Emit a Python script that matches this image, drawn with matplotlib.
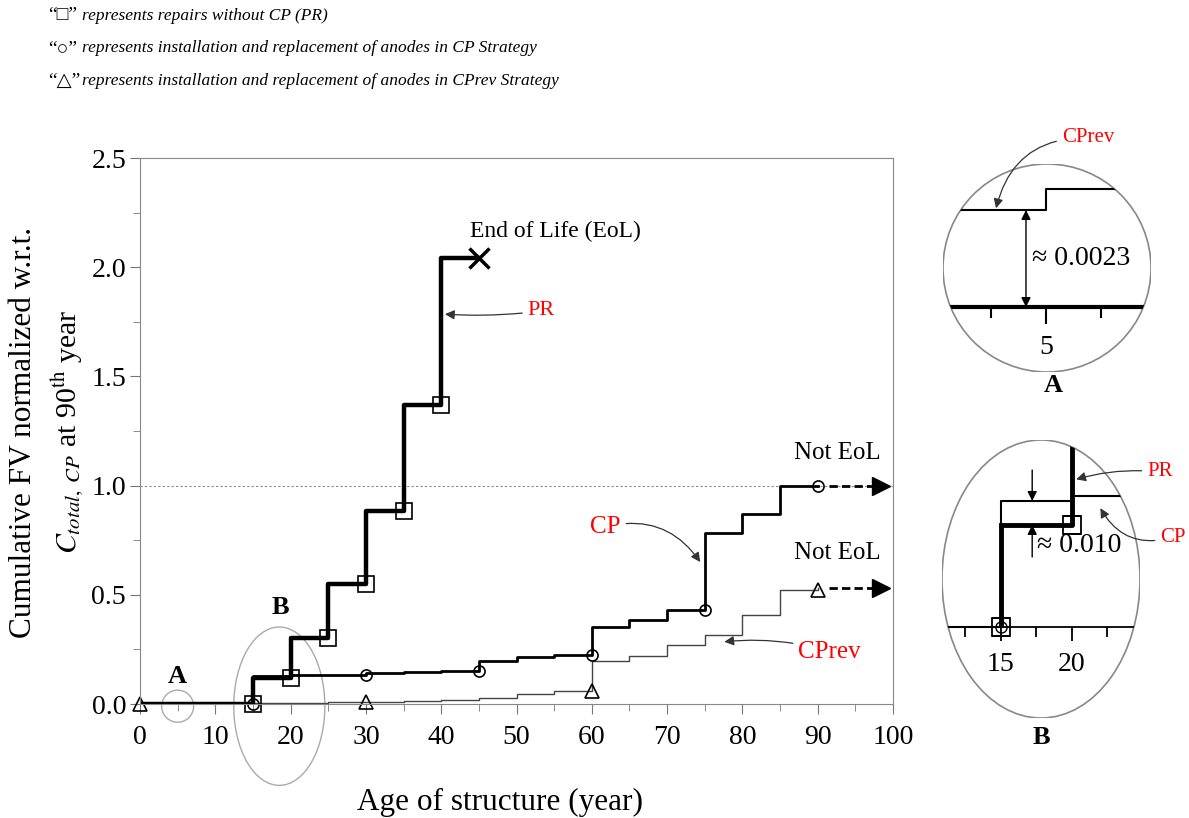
import numpy as np
import matplotlib.pyplot as plt
from matplotlib.patches import Ellipse
from matplotlib.ticker import MultipleLocator, FixedLocator

plt.rcParams['font.family'] = ['Liberation Serif', 'DejaVu Sans']
plt.rcParams['mathtext.fontset'] = 'stix'

# cumulative FV normalized by C_total,CP at year 90, sampled every 5 years
years = np.arange(0, 95, 5)
pr_years = years[:10]          # PR reaches end of life at 45
pr = [0, 0, 0, 0.12, 0.30, 0.55, 0.885, 1.37, 2.04, 2.04]
cp = [0, 0, 0, 0.13, 0.132, 0.134, 0.14, 0.145, 0.152, 0.198,
      0.215, 0.225, 0.353, 0.385, 0.43, 0.785, 0.87, 1.0, 1.0]
cprev = [0.0023, 0.0028, 0.0034, 0.004, 0.005, 0.007, 0.010, 0.014, 0.020, 0.028,
         0.045, 0.058, 0.198, 0.22, 0.27, 0.316, 0.408, 0.523, 0.53]

pr_repairs = [15, 20, 25, 30, 35, 40]
cp_anodes = [15, 30, 45, 60, 75, 90]
cprev_anodes = [0, 30, 60, 90]
eol_year = 45

legend_lines = [
    ('\u201c\u25a1\u201d', 'represents repairs without CP (PR)'),
    ('\u201c\u25cb\u201d', 'represents installation and replacement of anodes in CP Strategy'),
    ('\u201c\u25b3\u201d', 'represents installation and replacement of anodes in CPrev Strategy'),
]


def level_before(xs, ys, t):
    i = list(xs).index(t)
    return ys[i - 1] if i > 0 else 0.0


W, H = 1189, 818
fig = plt.figure(figsize=(W / 100, H / 100), dpi=100)


def fpx(x, y):
    # pixel position measured from the top-left corner -> figure fraction
    return x / W, 1 - y / H


ax = fig.add_axes([140 / W, 1 - 704 / H, 753 / W, 546 / H])
ax.axhline(1.0, color='#888888', ls=(0, (2, 2)), lw=0.8, zorder=1)
ax.step(years, cprev, where='post', color='#444444', lw=1.0)
ax.step(years, cp, where='post', color='k', lw=2.0)
ax.step(pr_years, pr, where='post', color='k', lw=3.2)

ax.plot(pr_repairs, [level_before(pr_years, pr, t) for t in pr_repairs], 's',
        mfc='none', mec='k', ms=11, mew=1.2, clip_on=False)
ax.plot(cp_anodes, [level_before(years, cp, t) for t in cp_anodes], 'o',
        mfc='none', mec='k', ms=8, mew=1.2, clip_on=False)
ax.plot(cprev_anodes, [level_before(years, cprev, t) for t in cprev_anodes], '^',
        mfc='none', mec='k', ms=10, mew=1.2, clip_on=False)
ax.plot(eol_year, pr[-1], 'x', color='k', ms=15, mew=2.5)

# "not end of life" continuation arrows
for lev in (cp[-1], cprev[-1]):
    ax.plot([91.5, 97.5], [lev, lev], color='k', lw=2, ls=(0, (3, 1.5)))
    ax.plot(98.4, lev, '>', color='k', ms=13, clip_on=False)

ax.add_patch(Ellipse((5, -0.01), 4.25, 0.147, fill=False, ec='#aaaaaa', lw=1, clip_on=False))
ax.add_patch(Ellipse((18.5, -0.01), 12.1, 0.725, fill=False, ec='#aaaaaa', lw=1, clip_on=False))
ax.text(5, 0.125, 'A', fontweight='bold', ha='center', va='center', fontsize=19)
ax.text(18.7, 0.44, 'B', fontweight='bold', ha='center', va='center', fontsize=19)

ax.text(43.8, 2.165, 'End of Life (EoL)', ha='left', va='center', fontsize=17)
ax.text(92.6, 1.15, 'Not EoL', ha='center', va='center', fontsize=18)
ax.text(92.6, 0.69, 'Not EoL', ha='center', va='center', fontsize=18)

arrow_kw = dict(arrowstyle='-|>', color='#333333', lw=0.9, mutation_scale=14, shrinkB=0)
ax.annotate('PR', xy=(40.5, 1.785), xytext=(53.3, 1.80), color='red', fontsize=16,
            ha='center', va='center', arrowprops=dict(arrow_kw, connectionstyle='arc3,rad=-0.05'))
ax.annotate('CP', xy=(74.4, 0.65), xytext=(61.8, 0.81), color='red', fontsize=18,
            ha='center', va='center', arrowprops=dict(arrow_kw, connectionstyle='arc3,rad=-0.35'))
ax.annotate('CPrev', xy=(77.6, 0.285), xytext=(91.6, 0.24), color='red', fontsize=18,
            ha='center', va='center', arrowprops=dict(arrow_kw, connectionstyle='arc3,rad=0.1'))

ax.set_xlim(0, 100)
ax.set_ylim(0, 2.5)
ax.xaxis.set_major_locator(MultipleLocator(10))
ax.xaxis.set_minor_locator(MultipleLocator(5))
ax.yaxis.set_major_locator(MultipleLocator(0.5))
ax.yaxis.set_minor_locator(MultipleLocator(0.25))
ax.yaxis.set_major_formatter('{x:.1f}')
ax.tick_params(which='both', direction='out', color='#777777', labelsize=20)
ax.tick_params(which='major', length=7)
ax.tick_params(which='minor', length=5)
ax.tick_params(axis='x', pad=8)
ax.tick_params(axis='y', pad=3)
for s in ax.spines.values():
    s.set_color('#888888')

fig.text(*fpx(24, 432), 'Cumulative FV normalized w.r.t.', rotation=90,
         ha='center', va='center', fontsize=22.5)
fig.text(*fpx(67, 432), r'$C_{total,\ CP}$ at 90$^{\rm th}$ year', rotation=90,
         ha='center', va='center', fontsize=21.5)
fig.text(*fpx(500, 802), 'Age of structure (year)', ha='center', va='center', fontsize=22.5)

for i, (sym, desc) in enumerate(legend_lines):
    y = 16 + 32.5 * i
    fig.text(*fpx(48, y), sym, ha='left', va='center', fontsize=14)
    fig.text(*fpx(82, y), desc, ha='left', va='center', fontsize=12.5, style='italic')

# --- zoom A: first CPrev step around year 5 ---
ax_a = fig.add_axes([943 / W, 1 - 372 / H, 208 / W, 208 / H])
ax_a.set_xlim(0.32, 9.77)
ax_a.set_ylim(-0.00154, 0.00339)
ax_a.patch.set_visible(False)
ring_a = Ellipse((0.5, 0.5), 1, 1, transform=ax_a.transAxes, fill=False, ec='#888888', lw=1.2)
ax_a.add_patch(ring_a)
lines_a = ax_a.step(years, cprev, where='post', color='k', lw=1.5)
lines_a += ax_a.step(years, cp, where='post', color='k', lw=3)
for ln in lines_a:
    ln.set_clip_path(ring_a)
for s in ('top', 'right', 'left'):
    ax_a.spines[s].set_visible(False)
ax_a.spines['bottom'].set_position(('data', 0))
ax_a.spines['bottom'].set_color('none')
ax_a.set_yticks([])
ax_a.set_xticks([5])
ax_a.xaxis.set_minor_locator(FixedLocator([2.5, 7.5]))
ax_a.tick_params(axis='x', which='major', direction='out', length=12, width=1.5, labelsize=20, pad=8)
ax_a.tick_params(axis='x', which='minor', direction='out', length=8, width=1.5)
ax_a.annotate('', xy=(4.09, 0), xytext=(4.09, cprev[0]),
              arrowprops=dict(arrowstyle='<|-|>', color='k', lw=1, shrinkA=0, shrinkB=0, mutation_scale=14))
ax_a.text(4.35, cprev[0] / 2, '\u2248 0.0023', ha='left', va='center', fontsize=20)
ax_a.annotate('CPrev', xy=(2.73, cprev[0] + 0.00004), xytext=fpx(1088, 138), textcoords='figure fraction',
              color='red', fontsize=15, ha='center', va='center', annotation_clip=False,
              arrowprops=dict(arrow_kw, connectionstyle='arc3,rad=0.4'))
fig.text(*fpx(1053, 386), 'A', fontweight='bold', ha='center', va='center', fontsize=19)

# --- zoom B: PR vs CP around years 15-20 (broken vertical scale) ---
brk, squeeze = 0.11, 0.296


def fwd(y):
    y = np.asarray(y, dtype=float)
    return np.where(y < brk, y * squeeze, brk * squeeze + (y - brk))


def inv(v):
    v = np.asarray(v, dtype=float)
    return np.where(v < brk * squeeze, v / squeeze, v - brk * squeeze + brk)


ax_b = fig.add_axes([942 / W, 1 - 718 / H, 198 / W, 278 / H])
ax_b.set_yscale('function', functions=(fwd, inv))
ax_b.set_xlim(10.85, 24.79)
ax_b.set_ylim(-0.128, 0.1554)
ax_b.patch.set_visible(False)
ring_b = Ellipse((0.5, 0.5), 1, 1, transform=ax_b.transAxes, fill=False, ec='#888888', lw=1.2)
ax_b.add_patch(ring_b)
lines_b = ax_b.step(years, cp, where='post', color='k', lw=1.5)
lines_b += ax_b.step(pr_years[3:], pr[3:], where='post', color='k', lw=3.5)
lines_b.append(ax_b.vlines(pr_years[3], 0, pr[3], color='k', lw=3.5))
lines_b += ax_b.plot([15, 20], [level_before(pr_years, pr, t) for t in (15, 20)], 's',
                     mfc='none', mec='k', ms=13, mew=1.3)
lines_b += ax_b.plot(15, level_before(years, cp, 15), 'o', mfc='none', mec='k', ms=8, mew=1, ls='none')
for ln in lines_b:
    ln.set_clip_path(ring_b)
for s in ('top', 'right', 'left'):
    ax_b.spines[s].set_visible(False)
ax_b.spines['bottom'].set_position(('data', 0))
ax_b.spines['bottom'].set_color('k')
ax_b.spines['bottom'].set_linewidth(1.3)
ax_b.spines['bottom'].set_clip_path(ring_b)
ax_b.set_yticks([])
ax_b.yaxis.set_minor_locator(FixedLocator([]))
ax_b.set_xticks([15, 20])
ax_b.xaxis.set_minor_locator(FixedLocator([12.5, 17.5, 22.5]))
ax_b.tick_params(axis='x', which='major', direction='out', length=10, width=1.3, labelsize=20, pad=8)
ax_b.tick_params(axis='x', which='minor', direction='out', length=7, width=1.3)
ax_b.annotate('', xy=(17.2, cp[3]), xytext=(17.2, 0.1429),
              arrowprops=dict(arrowstyle='-|>', color='k', lw=1, shrinkA=0, shrinkB=0, mutation_scale=14))
ax_b.annotate('', xy=(17.2, pr[3]), xytext=(17.2, 0.0987),
              arrowprops=dict(arrowstyle='-|>', color='k', lw=1, shrinkA=0, shrinkB=0, mutation_scale=14))
ax_b.text(0.48, 0.622, '\u2248 0.010', transform=ax_b.transAxes, ha='left', va='center', fontsize=20)
ax_b.annotate('PR', xy=(20.3, 0.139), xycoords=ax_b.transData, xytext=fpx(1160, 472),
              textcoords='figure fraction', color='red', fontsize=15, ha='center', va='center',
              annotation_clip=False, arrowprops=dict(arrow_kw, connectionstyle='arc3,rad=0.1'))
ax_b.annotate('CP', xy=(22.0, 0.127), xycoords=ax_b.transData, xytext=fpx(1173, 537),
              textcoords='figure fraction', color='red', fontsize=15, ha='center', va='center',
              annotation_clip=False, arrowprops=dict(arrow_kw, connectionstyle='arc3,rad=-0.4'))
fig.text(*fpx(1041, 737), 'B', fontweight='bold', ha='center', va='center', fontsize=19)

fig.savefig('out.png', dpi=100)
